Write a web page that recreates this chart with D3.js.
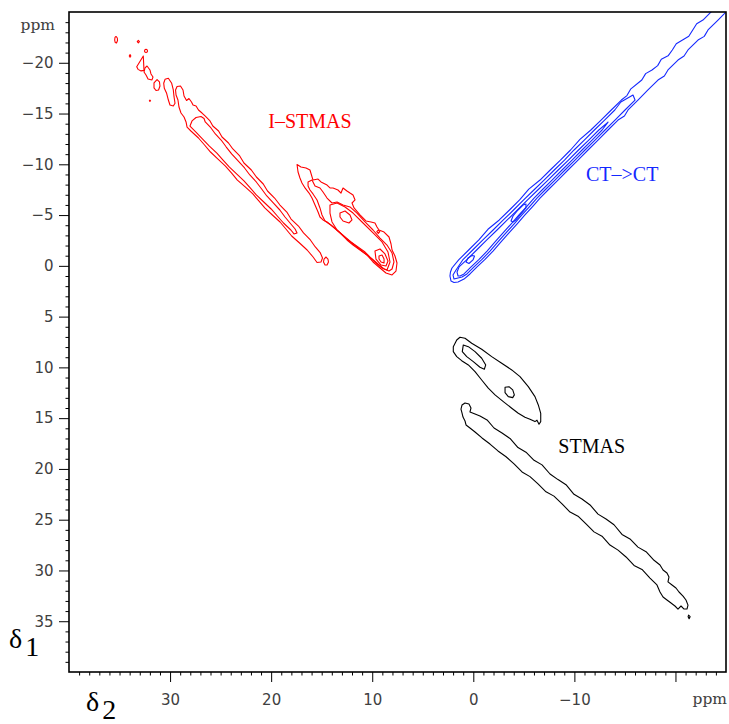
<!DOCTYPE html>
<html>
<head>
<meta charset="utf-8">
<script src="https://cdn.jsdelivr.net/npm/d3@7"></script>
<style>
body { margin: 0; background: #fff; }
svg { display: block; }
.axis .tick text { font-family: "DejaVu Sans", sans-serif; font-size: 15px; fill: #404040; }
.axis .tick line { stroke: #000; }
.unit { font-family: "DejaVu Serif", serif; font-size: 15.5px; fill: #404040; }
.axis-name { font-family: "Liberation Serif", serif; font-size: 28px; fill: #000; }
.peak-label { font-family: "Liberation Serif", serif; font-size: 20px; }
.contour { fill: none; stroke-width: 1.1; stroke-linejoin: round; }
</style>
</head>
<body>
<svg id="chart" width="729" height="724"></svg>
<script>
// axes (ppm)
const xDomain = [40, -25];
const yDomain = [-25, 40];
const xMajorTicks = [30, 20, 10, 0, -10, -20];
const xTickLabels = ["30", "20", "10", "0", "\u221210", ""];
const yMajorTicks = [-20, -15, -10, -5, 0, 5, 10, 15, 20, 25, 30, 35];
const yTickLabels = ["\u221220", "\u221215", "\u221210", "\u22125", "0", "5", "10", "15", "20", "25", "30", "35"];

// peak annotations: text and anchor [delta2, delta1]
const peakNames = ["I\u2013STMAS", "CT\u2013>CT", "STMAS"];
const peakAnchors = [[20.28, -13.55], [-11.15, -8.31], [-8.41, 18.46]];
const peakColors = ["#ff0000", "#1428ff", "#000000"];

// contour rings, each a list of [delta2, delta1] in ppm
// I-STMAS (red)
const istmasDotA = [[35.35,-22.59],[35.22,-22.44],[35.20,-22.19],[35.30,-21.95],[35.43,-22.00],[35.48,-22.24],[35.45,-22.49]];
const istmasDotB = [[33.14,-22.2],[33.25,-22.08],[33.14,-21.96],[33.03,-22.08]];
const istmasDotC = [[33.96,-20.8],[34.04,-20.67],[33.96,-20.55],[33.88,-20.67]];
const istmasDotD = [[32.38,-21.32],[32.49,-21.27],[32.53,-21.16],[32.49,-21.05],[32.38,-21.0],[32.27,-21.05],[32.23,-21.16],[32.27,-21.27]];
const istmasDotE = [[31.99,-16.33],[32.05,-16.26],[31.99,-16.19],[31.93,-16.26]];
const istmasTri = [[33.30,-19.61],[32.65,-20.67],[32.58,-19.25],[32.87,-19.20],[33.17,-19.35]];
const istmasSquig = [[32.48,-19.49],[32.28,-19.68],[31.99,-19.29],[31.89,-18.90],[31.69,-18.60],[31.79,-18.31],[32.18,-18.40],[32.38,-18.80],[32.58,-19.09]];
const istmasOval = [[31.29,-18.35],[31.05,-18.11],[31.00,-17.71],[31.14,-17.32],[31.39,-17.27],[31.59,-17.52],[31.59,-18.01]];
const istmasPatch = [[30.50,-18.37],[30.17,-18.47],[29.84,-17.98],[29.68,-17.32],[29.61,-16.66],[29.51,-16.01],[29.68,-15.74],[30.01,-15.84],[30.17,-16.33],[30.34,-16.99],[30.57,-17.48],[30.63,-17.98]];
const istmasRidgeOuter = [[29.31,-17.66],[28.97,-17.71],[28.72,-17.32],[28.62,-16.73],[28.37,-16.28],[28.13,-16.48],[27.88,-16.14],[27.73,-15.84],[27.43,-15.74],[27.19,-15.35],[26.84,-15.05],[26.54,-14.76],
  [26.05,-14.27],[25.77,-13.77],[25.20,-13.28],[24.86,-12.69],[24.22,-12.10],[23.79,-11.51],[23.11,-10.82],[22.69,-10.13],[21.96,-9.44],[21.46,-8.75],[20.78,-8.06],[20.36,-7.37],[19.66,-6.68],[19.13,-5.99],[18.45,-5.30],[18.03,-4.61],[17.30,-3.92],[16.80,-3.24],[16.12,-2.55],[15.63,-1.86],[15.13,-1.27],[14.92,-0.77],[15.07,-0.38],[15.46,-0.33],
  [15.85,-0.87],[16.44,-1.56],[17.19,-2.25],[17.97,-2.94],[18.54,-3.63],[19.12,-4.32],[19.88,-5.01],[20.63,-5.70],[21.22,-6.39],[21.81,-7.08],[22.57,-7.77],[23.34,-8.45],[23.91,-9.14],[24.52,-9.83],[25.26,-10.52],[26.00,-11.21],[26.59,-11.90],[27.19,-12.59],[27.94,-13.28],[28.32,-13.67],[28.42,-14.17],
  [28.62,-14.66],[28.92,-15.05],[29.12,-15.64],[29.22,-16.33],[29.41,-16.83],[29.46,-17.32]];
const istmasRidgeInner = [[27.83,-14.27],[27.43,-14.61],[26.94,-14.71],[26.64,-14.51],
  [26.52,-14.17],[25.95,-13.58],[25.52,-12.99],[24.95,-12.39],[24.44,-11.70],[23.91,-11.02],[23.27,-10.33],[22.63,-9.64],[22.11,-8.95],[21.47,-8.26],[20.94,-7.57],[20.43,-6.88],[19.79,-6.19],[19.14,-5.50],[18.63,-4.81],[18.05,-4.12],[17.63,-3.63],[17.44,-3.24],[17.74,-3.14],
  [18.05,-3.53],[18.78,-4.22],[19.39,-4.91],[20.00,-5.60],[20.73,-6.29],[21.47,-6.98],[22.07,-7.67],[22.69,-8.36],[23.42,-9.05],[24.15,-9.74],[24.76,-10.42],[25.37,-11.11],[26.11,-11.80],[26.78,-12.49],[27.44,-13.18],[28.03,-13.77]];
const istmasRidgeTail = [[14.57,-0.87],[14.38,-0.67],[14.33,-0.38],[14.47,-0.08],[14.67,-0.08],[14.82,-0.38],[14.77,-0.67]];
const istmasBlob1 = [[17.44,-9.98],[17.05,-9.74],[16.55,-9.64],[16.16,-9.44],[15.86,-8.45],[15.36,-8.55],[15.07,-8.26],[14.47,-7.96],[14.18,-7.67],[13.88,-7.67],[13.39,-7.47],[13.09,-7.17],[12.89,-7.67],[12.50,-7.37],[12.20,-7.17],[11.90,-6.98],[11.70,-6.49],[12.00,-6.19],[11.80,-5.70],[11.21,-5.01],[10.62,-4.42],[10.12,-4.32],[9.73,-4.22],[9.53,-3.83],[9.33,-3.53],[8.83,-3.33],[8.34,-2.84],[8.14,-2.15],[8.04,-1.56],[7.75,-0.97],[7.55,-0.28],[7.65,0.51],[8.04,0.90],[8.64,0.70],[9.23,0.21],[9.92,-0.38],[10.52,-1.07],[11.21,-1.56],[11.90,-2.05],[12.50,-2.55],[13.19,-3.24],[13.88,-3.83],[14.47,-4.32],[14.87,-4.52],[15.17,-4.81],[15.36,-5.30],[15.66,-5.99],[15.96,-6.68],[16.25,-7.17],[16.65,-7.67],[16.95,-8.16],[17.15,-8.65],[17.34,-9.24]];
const istmasBlob2 = [[16.35,-8.26],[15.96,-8.45],[15.66,-7.86],[15.17,-7.67],[14.87,-7.27],[14.47,-6.68],[13.98,-6.19],[13.48,-6.29],[12.89,-5.99],[12.20,-5.80],[11.51,-5.20],[10.71,-4.32],[9.92,-3.53],[9.23,-2.74],[8.54,-2.05],[8.04,-1.27],[7.85,-0.38],[8.04,0.31],[8.34,0.51],[8.83,0.31],[9.43,-0.18],[10.12,-0.77],[10.71,-1.36],[11.41,-1.86],[12.10,-2.35],[12.69,-2.84],[13.39,-3.43],[14.08,-4.02],[14.67,-4.42],[14.97,-5.01],[15.17,-5.70],[15.46,-6.49],[15.86,-7.08],[16.16,-7.47],[16.35,-7.86]];
const istmasBlob3 = [[14.18,-5.99],[13.48,-6.19],[12.69,-5.80],[11.90,-5.20],[10.91,-4.22],[9.92,-3.24],[9.03,-2.35],[8.44,-1.36],[8.24,-0.38],[8.54,0.41],[9.03,0.21],[9.73,-0.38],[10.52,-1.07],[11.51,-1.86],[12.50,-2.64],[13.48,-3.53],[13.98,-4.32],[14.18,-5.20]];
const istmasBlob4a = [[13.19,-5.20],[12.69,-5.40],[12.20,-5.01],[12.00,-4.52],[12.30,-4.22],[12.89,-4.42],[13.19,-4.81]];
const istmasBlob4b = [[9.73,-1.46],[9.23,-1.66],[8.74,-1.17],[8.44,-0.48],[8.64,0.01],[9.13,-0.08],[9.63,-0.67]];
const istmasBlob5 = [[9.33,-0.97],[9.03,-1.07],[8.83,-0.67],[8.83,-0.28],[9.13,-0.38],[9.33,-0.67]];
const istmasBlobDot = [[9.40,-3.52],[9.55,-3.36],[9.40,-3.20],[9.25,-3.36]];

// CT->CT (blue)
const ctOuter = [[2.21,1.49],[2.31,1.00],[2.26,0.61],[2.11,0.21],[1.45,-0.58],[0.46,-1.56],[-0.55,-2.55],[-1.45,-3.60],[-2.57,-4.52],[-3.58,-5.50],[-4.58,-6.49],[-5.49,-7.55],[-6.60,-8.45],[-7.61,-9.44],[-8.62,-10.42],[-9.62,-11.41],[-10.55,-12.45],[-11.63,-13.38],[-12.64,-14.36],[-13.65,-15.35],[-14.65,-16.33],[-15.20,-16.77],[-15.56,-17.40],[-16.67,-18.30],[-17.05,-18.93],[-17.68,-19.29],[-18.24,-19.72],[-18.60,-20.35],[-19.27,-20.68],[-19.69,-21.26],[-20.08,-21.87],[-20.70,-22.24],[-21.32,-22.61],[-21.71,-23.23],[-22.10,-23.84],[-22.72,-24.21],[-24.21,-25.69],
  [-25.69,-25.69],[-24.21,-24.21],[-23.22,-23.23],[-22.85,-22.60],[-22.23,-22.24],[-21.24,-21.26],[-20.85,-20.66],[-20.25,-20.27],[-19.26,-19.29],[-18.90,-18.70],[-18.27,-18.30],[-17.28,-17.32],[-16.29,-16.33],[-15.31,-15.35],[-14.95,-14.75],[-14.32,-14.36],[-13.33,-13.38],[-12.34,-12.39],[-11.35,-11.41],[-10.36,-10.42],[-9.37,-9.44],[-8.38,-8.45],[-7.39,-7.47],[-6.60,-6.68],[-5.91,-5.89],[-5.11,-5.01],[-4.32,-4.12],[-3.53,-3.24],[-2.74,-2.35],[-1.95,-1.46],[-1.16,-0.63],[-0.37,0.11],[0.33,0.80],[0.92,1.30],[1.51,1.59],[1.91,1.64]];
const ctLevel2 = [[1.91,1.30],[2.01,0.90],[1.71,0.41],[1.05,-0.58],[0.06,-1.56],[-0.95,-2.55],[-1.96,-3.53],[-2.97,-4.52],[-3.98,-5.50],[-4.98,-6.49],[-5.99,-7.47],[-7.00,-8.45],[-8.01,-9.44],[-9.02,-10.42],[-9.97,-11.41],[-10.98,-12.39],[-11.98,-13.38],[-12.99,-14.36],[-14.00,-15.35],[-14.60,-16.14],[-15.80,-16.83],[-16.00,-16.33],[-15.01,-15.35],[-14.02,-14.36],[-13.03,-13.38],[-12.04,-12.39],[-11.05,-11.41],[-10.06,-10.42],[-9.07,-9.44],[-8.08,-8.45],[-7.09,-7.47],[-6.30,-6.68],[-5.61,-5.89],[-4.81,-5.01],[-4.02,-4.12],[-3.23,-3.24],[-2.44,-2.35],[-1.65,-1.46],[-0.86,-0.63],[-0.07,0.11],[0.63,0.80],[1.12,1.10]];
const ctLevel3 = [[1.51,1.00],[1.61,0.61],[1.41,0.11],[0.66,-0.58],[-0.33,-1.56],[-1.34,-2.55],[-2.35,-3.53],[-3.36,-4.52],[-4.37,-5.50],[-5.37,-6.49],[-6.38,-7.47],[-7.39,-8.45],[-8.40,-9.44],[-9.41,-10.42],[-10.41,-11.41],[-11.42,-12.39],[-12.42,-13.38],[-13.33,-14.16],[-12.74,-13.38],[-11.75,-12.39],[-10.76,-11.41],[-9.77,-10.42],[-8.78,-9.44],[-7.79,-8.45],[-6.80,-7.47],[-6.01,-6.68],[-5.32,-5.89],[-4.52,-5.01],[-3.73,-4.12],[-2.94,-3.24],[-2.15,-2.35],[-1.36,-1.46],[-0.57,-0.63],[0.22,0.11],[0.92,0.80],[1.31,1.00]];
const ctLevel4 = [[-3.73,-4.42],[-3.93,-4.91],[-4.42,-5.50],[-4.92,-5.99],[-5.21,-6.09],[-5.21,-5.70],[-4.72,-5.11],[-4.22,-4.52],[-3.93,-4.32]];
const ctLevel5 = [[0.72,-0.38],[0.52,-0.77],[0.13,-1.02],[-0.12,-0.97],[0.03,-0.58],[0.43,-0.23]];

// STMAS (black)
const stmasUpper = [[1.32,7.03],[0.82,7.13],[0.16,7.62],[-0.83,8.21],[-1.82,8.94],[-2.81,9.59],[-3.80,10.25],[-4.62,10.91],[-5.44,11.90],[-6.10,12.88],[-6.43,13.70],[-6.67,14.52],[-6.67,15.34],[-6.50,15.60],[-6.30,15.20],[-6.10,15.34],[-5.61,15.11],[-5.11,14.91],[-4.45,14.52],[-3.80,14.02],[-2.97,13.37],[-2.15,12.71],[-1.48,12.05],[-0.83,11.24],[-0.17,10.42],[0.49,9.76],[1.15,9.34],[1.64,8.94],[1.98,8.45],[1.98,7.96],[1.64,7.30]];
const stmasUpperInner = [[0.99,7.79],[0.49,7.96],[-0.17,8.45],[-0.83,9.10],[-1.23,9.76],[-1.09,10.18],[-0.66,9.99],[0.00,9.43],[0.65,8.94],[1.09,8.45]];
const stmasUpperSpot = [[-3.14,11.96],[-3.53,11.90],[-3.90,12.22],[-4.06,12.71],[-3.90,12.98],[-3.46,12.88],[-3.14,12.49]];
const stmasLower = [[1.22,14.10],[1.12,13.71],[0.82,13.51],[0.43,13.61],[0.23,14.00],[0.33,14.39],[-0.17,14.59],[-0.66,14.79],[-1.36,15.18],[-2.05,15.97],[-2.84,16.46],[-3.63,17.00],[-4.42,17.90],[-5.21,18.35],[-6.01,19.15],[-6.80,19.60],[-7.59,20.50],[-8.38,21.05],[-9.17,21.55],[-9.96,22.50],[-10.75,22.96],[-11.55,23.55],[-12.34,24.45],[-13.13,24.93],[-13.92,25.50],[-14.71,26.45],[-15.50,26.90],[-16.29,27.70],[-17.09,28.15],[-17.88,29.00],[-18.47,29.46],[-18.77,29.95],[-19.16,30.25],[-19.36,30.64],[-19.26,31.13],[-19.66,31.43],[-20.05,31.73],[-20.35,32.12],[-20.75,32.52],[-21.04,32.91],[-21.24,33.41],[-21.14,33.80],[-20.85,33.80],[-20.55,33.50],[-20.25,33.80],[-19.95,33.50],[-19.56,33.21],[-19.16,32.91],[-18.77,32.62],[-18.47,32.12],[-18.17,31.43],
  [-17.48,30.75],[-16.69,29.90],[-15.90,29.50],[-15.11,28.67],[-14.32,28.00],[-13.52,27.50],[-12.73,26.62],[-11.94,26.20],[-11.15,25.42],[-10.36,24.65],[-9.57,24.25],[-8.78,23.45],[-7.98,22.68],[-7.19,22.25],[-6.40,21.48],[-5.61,20.76],[-4.82,20.30],[-4.03,19.51],[-3.24,18.80],[-2.44,18.23],[-1.65,17.55],[-0.86,16.95],[-0.17,16.36],[0.33,15.97],[0.72,15.67],[0.82,15.28],[1.02,14.89],[1.12,14.49]];
const stmasDot = [[-21.3,34.4],[-21.45,34.55],[-21.35,34.75],[-21.25,34.55]];

const series = [
  {color: "#ff0000", rings: [istmasDotA, istmasDotB, istmasDotC, istmasDotD, istmasDotE, istmasTri, istmasSquig, istmasOval, istmasPatch,
    istmasRidgeOuter, istmasRidgeInner, istmasRidgeTail, istmasBlob1, istmasBlob2, istmasBlob3, istmasBlob4a, istmasBlob4b, istmasBlob5, istmasBlobDot]},
  {color: "#1428ff", rings: [ctOuter, ctLevel2, ctLevel3, ctLevel4, ctLevel5]},
  {color: "#000000", rings: [stmasUpper, stmasUpperInner, stmasUpperSpot, stmasLower, stmasDot]}
];

const svg = d3.select("#chart");
const x = d3.scaleLinear().domain(xDomain).range([69, 726]);
const y = d3.scaleLinear().domain(yDomain).range([12, 672]);
const plotW = x.range()[1] - x.range()[0];
const plotH = y.range()[1] - y.range()[0];

svg.append("defs").append("clipPath").attr("id", "plot-clip")
  .append("rect")
    .attr("x", x.range()[0]).attr("y", y.range()[0])
    .attr("width", plotW).attr("height", plotH);

// contours
const ring = d3.line()
  .x(d => x(d[0]))
  .y(d => y(d[1]))
  .curve(d3.curveLinearClosed);

const plot = svg.append("g").attr("clip-path", "url(#plot-clip)");
series.forEach(s => {
  plot.append("g")
    .selectAll("path")
    .data(s.rings)
    .join("path")
      .attr("class", "contour")
      .attr("stroke", s.color)
      .attr("d", ring);
});

// axes: minor ticks every ppm, major ticks with labels
const minorX = d3.range(-24, 40).filter(v => !xMajorTicks.includes(v));
const minorY = d3.range(-24, 40).filter(v => !yMajorTicks.includes(v));

function clean(g) {
  g.select(".domain").remove();
}

svg.append("g").attr("class", "axis")
  .attr("transform", `translate(0,${y.range()[1]})`)
  .call(d3.axisBottom(x).tickValues(minorX).tickSize(3.5).tickFormat(""))
  .call(clean);
svg.append("g").attr("class", "axis")
  .attr("transform", `translate(0,${y.range()[1]})`)
  .call(d3.axisBottom(x).tickValues(xMajorTicks).tickSize(10).tickPadding(12)
    .tickFormat((d, i) => xTickLabels[i]))
  .call(clean);

svg.append("g").attr("class", "axis")
  .attr("transform", `translate(${x.range()[0]},0)`)
  .call(d3.axisLeft(y).tickValues(minorY).tickSize(3.5).tickFormat(""))
  .call(clean);
svg.append("g").attr("class", "axis")
  .attr("transform", `translate(${x.range()[0]},0)`)
  .call(d3.axisLeft(y).tickValues(yMajorTicks).tickSize(10).tickPadding(5.5)
    .tickFormat((d, i) => yTickLabels[i]))
  .call(clean);

// frame
svg.append("rect")
  .attr("x", x.range()[0]).attr("y", y.range()[0])
  .attr("width", plotW).attr("height", plotH)
  .attr("fill", "none").attr("stroke", "#000").attr("stroke-width", 1.6);

// units
svg.append("text").attr("class", "unit")
  .attr("x", 55).attr("y", 29.5).attr("text-anchor", "end").text("ppm");
svg.append("text").attr("class", "unit")
  .attr("x", 727).attr("y", 703.5).attr("text-anchor", "end").text("ppm");

// axis names
const d1 = svg.append("text").attr("class", "axis-name").attr("x", 9).attr("y", 648);
d1.append("tspan").text("\u03b4");
d1.append("tspan").attr("dx", 3).attr("dy", 8).text("1");
const d2 = svg.append("text").attr("class", "axis-name").attr("x", 86).attr("y", 710.5);
d2.append("tspan").text("\u03b4");
d2.append("tspan").attr("dx", 3).attr("dy", 8).text("2");

// peak labels
svg.append("g")
  .selectAll("text")
  .data(peakNames)
  .join("text")
    .attr("class", "peak-label")
    .attr("x", (d, i) => x(peakAnchors[i][0]))
    .attr("y", (d, i) => y(peakAnchors[i][1]))
    .attr("fill", (d, i) => peakColors[i])
    .text(d => d);
</script>
</body>
</html>
